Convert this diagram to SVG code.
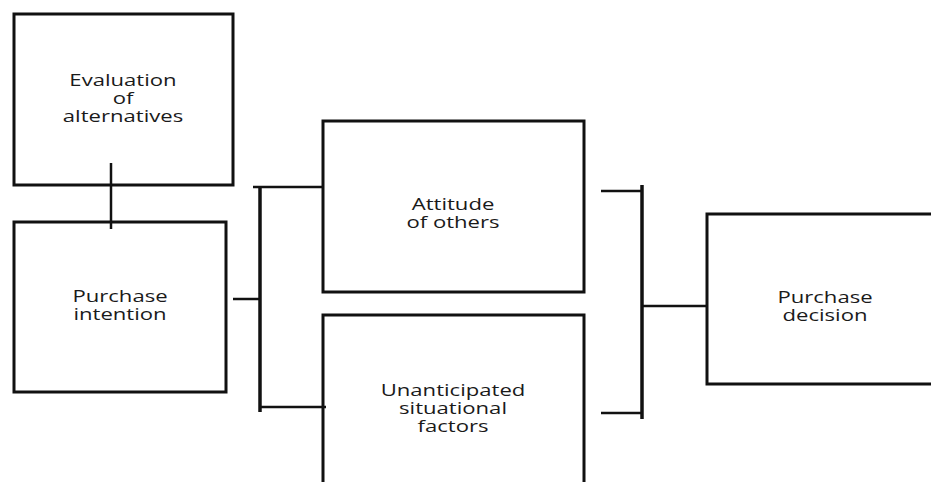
<svg xmlns="http://www.w3.org/2000/svg" width="931" height="482" viewBox="0 0 931 482">
<style>
.box{fill:#fff;stroke:#111;stroke-width:3}
.lbl{font-family:"Open Sans","Liberation Sans",sans-serif;font-size:17px;fill:#1a1a1a;text-anchor:middle}
.conn line{stroke:#111;stroke-width:2.5}
.conn line.bar{stroke-width:3.5}
</style>
<rect width="931" height="482" fill="#fff"/>
<g id="evaluation">
<rect class="box" x="14" y="14" width="219" height="171"/>
<text class="lbl" transform="translate(123,86) scale(1.3,1)"><tspan x="0" y="0">Evaluation</tspan><tspan x="0" y="18">of</tspan><tspan x="0" y="36">alternatives</tspan></text>
</g>
<g id="intention">
<rect class="box" x="14" y="222" width="212" height="170"/>
<text class="lbl" transform="translate(120,302) scale(1.3,1)"><tspan x="0" y="0">Purchase</tspan><tspan x="0" y="18">intention</tspan></text>
</g>
<g id="attitude">
<rect class="box" x="323" y="121" width="261" height="171"/>
<text class="lbl" transform="translate(453,210) scale(1.3,1)"><tspan x="0" y="0">Attitude</tspan><tspan x="0" y="18">of others</tspan></text>
</g>
<g id="unanticipated">
<rect class="box" x="323" y="315" width="261" height="180"/>
<text class="lbl" transform="translate(453,396) scale(1.3,1)"><tspan x="0" y="0">Unanticipated</tspan><tspan x="0" y="18">situational</tspan><tspan x="0" y="36">factors</tspan></text>
</g>
<g id="decision">
<rect class="box" x="707" y="214" width="240" height="170"/>
<text class="lbl" transform="translate(825,303) scale(1.3,1)"><tspan x="0" y="0">Purchase</tspan><tspan x="0" y="18">decision</tspan></text>
</g>
<g class="conn" id="connectors">
<line x1="111" y1="163" x2="111" y2="229"/>
<line x1="233" y1="299" x2="260" y2="299"/>
<line class="bar" x1="260" y1="187" x2="260" y2="412"/>
<line x1="253" y1="187" x2="323" y2="187"/>
<line x1="260" y1="407" x2="326" y2="407"/>
<line x1="601" y1="191" x2="642" y2="191"/>
<line x1="601" y1="413" x2="642" y2="413"/>
<line class="bar" x1="642" y1="185" x2="642" y2="419"/>
<line x1="642" y1="306" x2="707" y2="306"/>
</g>
</svg>
